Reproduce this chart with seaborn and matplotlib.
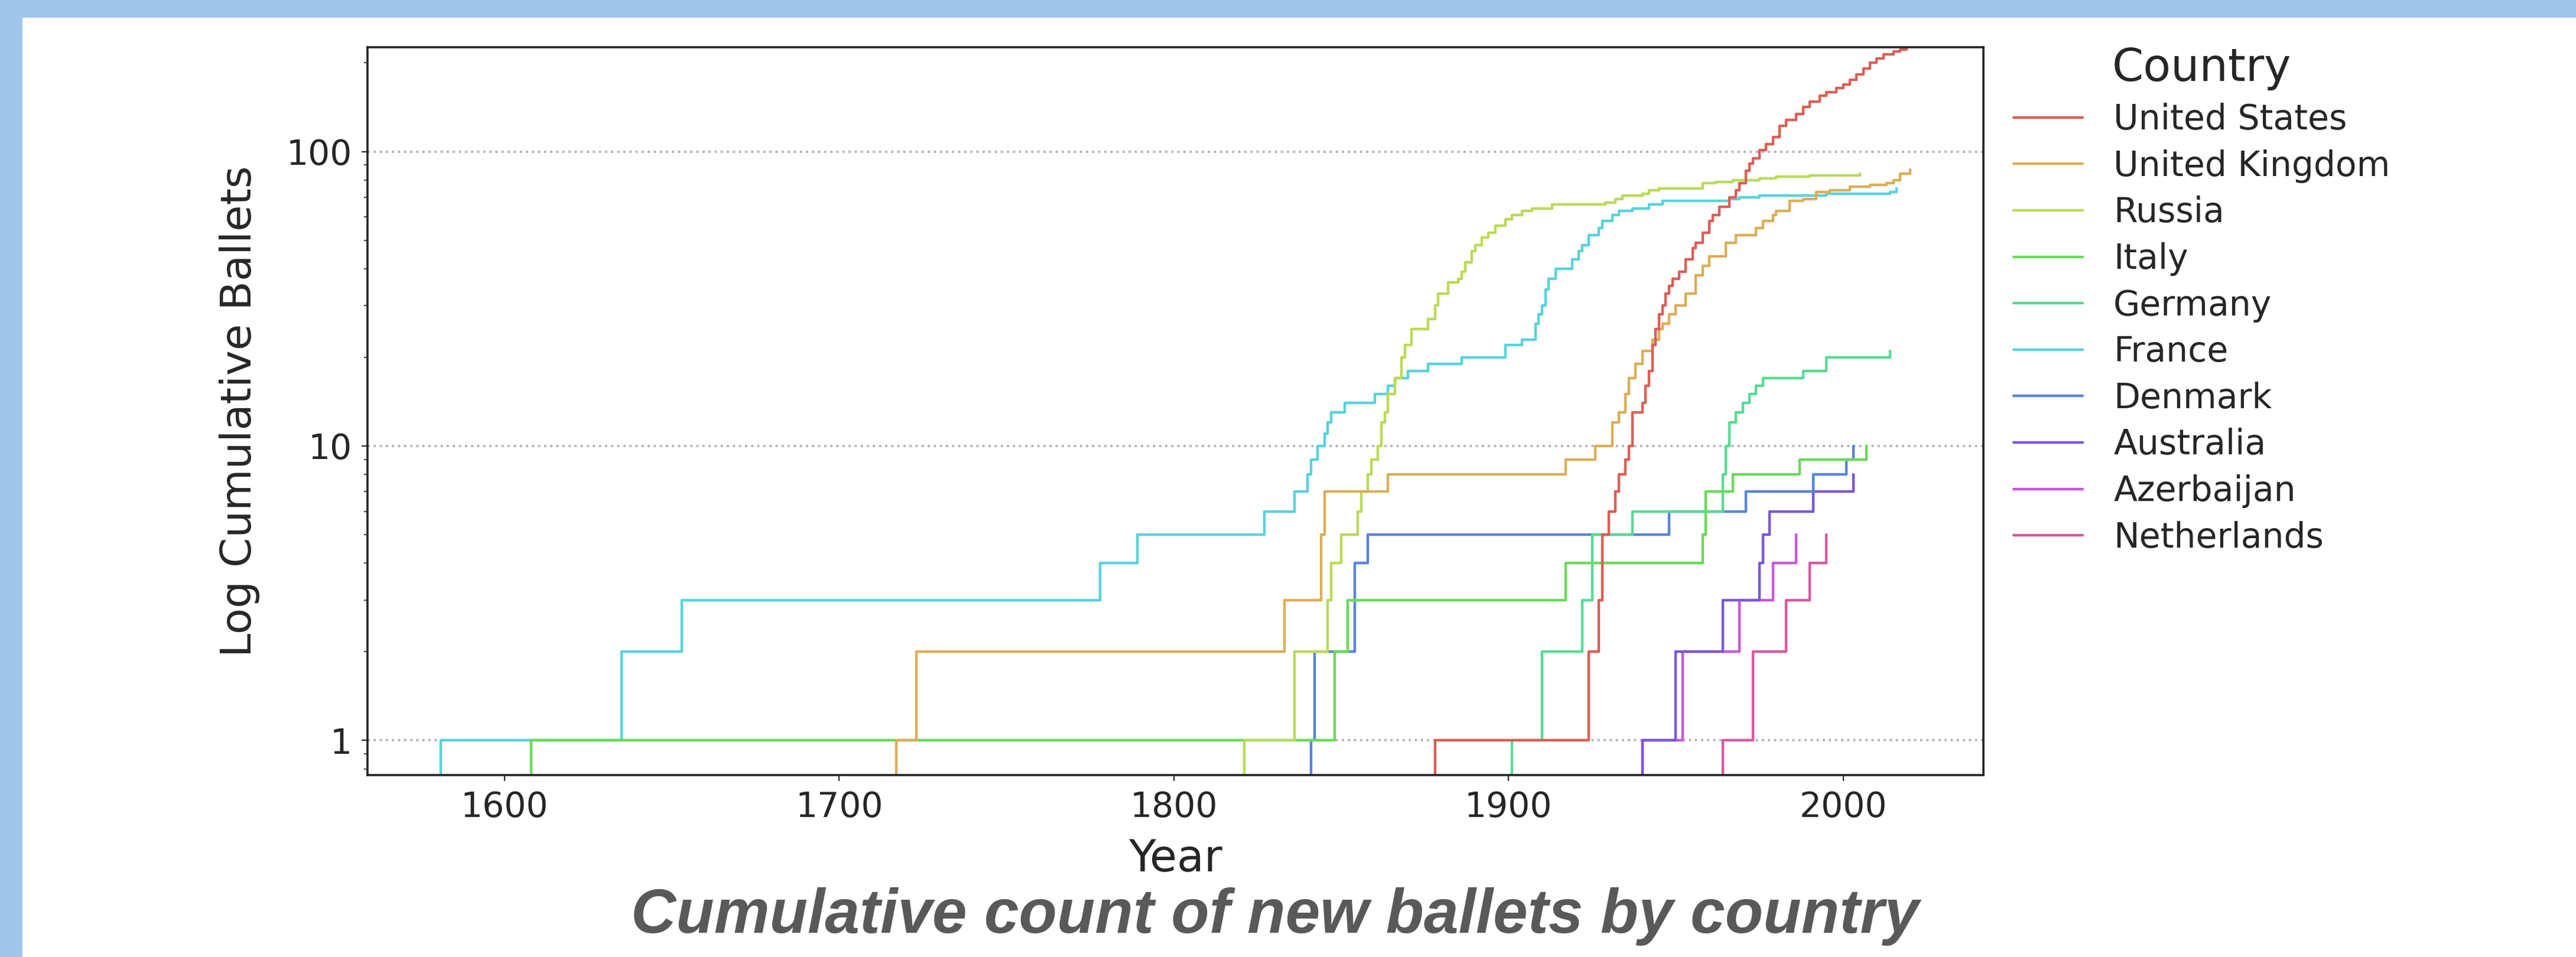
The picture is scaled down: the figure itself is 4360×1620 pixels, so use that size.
import numpy as np
import pandas as pd
import seaborn as sns
import matplotlib.pyplot as plt
from matplotlib.patches import Rectangle
from matplotlib.ticker import FuncFormatter, NullFormatter

countries = ["United States", "United Kingdom", "Russia", "Italy", "Germany",
             "France", "Denmark", "Australia", "Azerbaijan", "Netherlands"]

# years where the running total goes up, and the total reached in that year
us_years = [1878, 1924, 1927, 1928, 1930, 1932, 1933, 1935, 1936, 1937, 1940, 1941,
            1942, 1943, 1944, 1945, 1946, 1947, 1948, 1949, 1951, 1953, 1955, 1956,
            1958, 1960, 1961, 1963, 1966, 1968, 1969, 1971, 1972, 1973, 1975, 1977,
            1979, 1981, 1983, 1986, 1988, 1990, 1993, 1995, 1998, 2000, 2002, 2004,
            2006, 2008, 2010, 2012, 2015, 2017, 2019]
us_totals = [1, 2, 3, 5, 6, 7, 8, 9, 10, 13, 14, 16,
             18, 22, 25, 28, 30, 33, 35, 37, 39, 43, 47, 49,
             53, 58, 61, 65, 70, 74, 78, 86, 91, 95, 101, 106,
             112, 122, 128, 134, 142, 148, 155, 159, 164, 169, 175, 183,
             191, 200, 207, 214, 219, 222, 226]

uk_years = [1717, 1723, 1833, 1844, 1845, 1864, 1917, 1926, 1931, 1933, 1935, 1936,
            1938, 1940, 1943, 1945, 1946, 1948, 1950, 1953, 1956, 1958, 1960, 1965,
            1968, 1974, 1976, 1979, 1980, 1984, 1988, 1992, 1996, 2002, 2008, 2013,
            2015, 2017, 2020]
uk_totals = [1, 2, 3, 5, 7, 8, 9, 10, 12, 13, 15, 17,
             19, 21, 23, 25, 26, 28, 30, 33, 38, 41, 44, 49,
             52, 55, 58, 61, 63, 68, 69, 73, 74, 76, 77, 78,
             80, 84, 87]

ru_years = [1821, 1836, 1846, 1847, 1850, 1855, 1856, 1858, 1859, 1861, 1862, 1863,
            1864, 1866, 1868, 1869, 1871, 1876, 1878, 1879, 1882, 1885, 1886, 1887,
            1889, 1890, 1892, 1894, 1896, 1899, 1901, 1904, 1907, 1913, 1929, 1932,
            1934, 1940, 1942, 1945, 1958, 1962, 1967, 1975, 1980, 1990, 2005]
ru_totals = [1, 2, 3, 4, 5, 6, 7, 8, 9, 10, 12, 13,
             15, 17, 20, 22, 25, 27, 30, 33, 36, 37, 39, 42,
             46, 48, 51, 53, 56, 59, 61, 63, 64, 66, 67, 69,
             71, 72, 74, 75, 78, 79, 80, 81, 82, 83, 84]

it_years = [1608, 1848, 1852, 1917, 1958, 1959, 1967, 1987, 2007]
it_totals = [1, 2, 3, 4, 5, 7, 8, 9, 10]

de_years = [1901, 1910, 1922, 1925, 1937, 1964, 1965, 1966, 1968, 1970, 1972, 1974,
            1976, 1988, 1995, 2014]
de_totals = [1, 2, 3, 5, 6, 8, 10, 12, 13, 14, 15, 16,
             17, 18, 20, 21]

fr_years = [1581, 1635, 1653, 1778, 1789, 1827, 1836, 1840, 1841, 1843, 1845, 1846,
            1847, 1851, 1860, 1864, 1866, 1870, 1876, 1886, 1899, 1904, 1908, 1909,
            1910, 1911, 1912, 1914, 1919, 1921, 1922, 1924, 1927, 1928, 1931, 1933,
            1937, 1942, 1946, 1966, 1969, 1975, 1995, 2014, 2016]
fr_totals = [1, 2, 3, 4, 5, 6, 7, 8, 9, 10, 11, 12,
             13, 14, 15, 16, 17, 18, 19, 20, 22, 23, 26, 28,
             30, 34, 37, 40, 43, 46, 48, 52, 55, 58, 61, 63,
             64, 66, 68, 69, 70, 71, 72, 73, 75]

dk_years = [1841, 1842, 1854, 1858, 1948, 1971, 1991, 2001, 2003]
dk_totals = [1, 2, 4, 5, 6, 7, 8, 9, 10]

au_years = [1940, 1950, 1964, 1975, 1976, 1978, 1991, 2003]
au_totals = [1, 2, 3, 4, 5, 6, 7, 8]

az_years = [1940, 1952, 1969, 1979, 1986]
az_totals = [1, 2, 3, 4, 5]

nl_years = [1964, 1973, 1983, 1990, 1995]
nl_totals = [1, 2, 3, 4, 5]

series = [(us_years, us_totals), (uk_years, uk_totals), (ru_years, ru_totals),
          (it_years, it_totals), (de_years, de_totals), (fr_years, fr_totals),
          (dk_years, dk_totals), (au_years, au_totals), (az_years, az_totals),
          (nl_years, nl_totals)]

# one row per ballet
parts = []
for name, (yrs, tots) in zip(countries, series):
    n_new = np.diff([0] + tots)
    parts.append(pd.DataFrame({"Year": np.repeat(yrs, n_new), "Country": name}))
ballets = pd.concat(parts, ignore_index=True)

sns.set_style("ticks")
plt.rcParams["font.family"] = ["DejaVu Sans"]

fig = plt.figure(figsize=(21.8, 8.1), dpi=200)
ax = fig.add_axes([0.1427, 0.1901, 0.6273, 0.7605])

sns.ecdfplot(data=ballets, x="Year", hue="Country", hue_order=countries,
             stat="count", palette="hls", linewidth=1.6, ax=ax)
ax.set_yscale("log")
ax.yaxis.set_major_formatter(FuncFormatter(lambda v, p: f"{v:g}"))
ax.yaxis.set_minor_formatter(NullFormatter())
ax.set_xticks([1600, 1700, 1800, 1900, 2000])

ax.grid(axis="y", which="major", linestyle=":", color="#b5b5b5", linewidth=1.4)
ax.tick_params(labelsize=21, pad=6)
ax.set_xlabel("Year", fontsize=27, labelpad=8)
ax.set_ylabel("Log Cumulative Ballets", fontsize=26, labelpad=16)
for s in ax.spines.values():
    s.set_linewidth(1.3)
    s.set_color("#222222")

sns.move_legend(ax, "upper left", bbox_to_anchor=(1.01, 1.02), frameon=False,
                fontsize=21, title_fontsize=27.5, handlelength=2.0,
                handletextpad=0.9, labelspacing=0.37, borderaxespad=0)

# slide frame strips
fig.patches.append(Rectangle((0, 1 - 28 / 1620), 1, 28 / 1620,
                             transform=fig.transFigure, color="#9fc5e8", zorder=0))
fig.patches.append(Rectangle((0, 0), 36 / 4360, 1,
                             transform=fig.transFigure, color="#9fc5e8", zorder=0))

fig.text(0.495, 0.042, "Cumulative count of new ballets by country",
         ha="center", va="center", fontsize=38, fontweight="bold",
         style="italic", color="#595959", family="Liberation Sans")

fig.savefig("out.png", dpi=200)
